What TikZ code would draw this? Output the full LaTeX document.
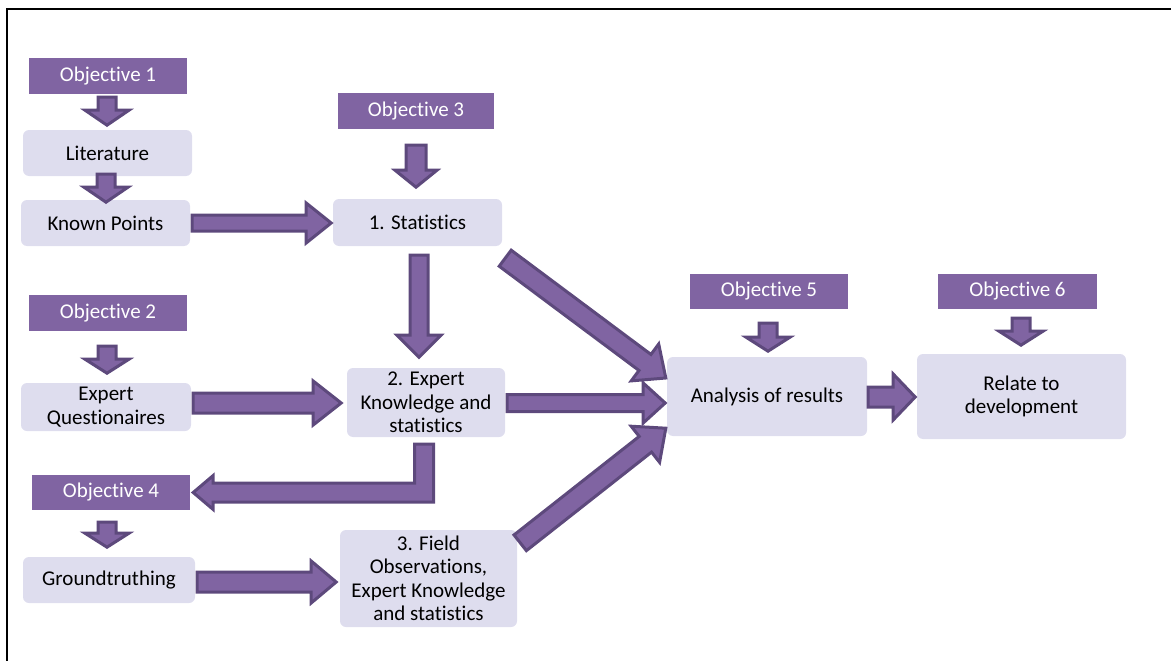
\documentclass[tikz,border=0pt]{standalone}
\usepackage{fontspec}
\setmainfont{Carlito}[Ligatures={NoCommon,NoContextual}]
\usetikzlibrary{calc}
\definecolor{objfill}{HTML}{8064A2}
\definecolor{boxfill}{HTML}{DEDDEE}
\definecolor{arrfill}{HTML}{8064A2}
\definecolor{arrdraw}{HTML}{5D497C}
\tikzset{
  objbox/.style={fill=objfill, text=white, inner sep=0pt, font=\fontsize{21}{23.5}\selectfont},
  lightbox/.style={fill=boxfill, rounded corners=6pt, text=black, inner sep=0pt, align=center, font=\fontsize{21}{23.5}\selectfont},
  arrowst/.style={fill=arrfill, draw=arrdraw, line width=3pt, line join=miter},
}
\newcommand\blockarr[5]{%
  \path (#2) coordinate (ba-t) ($(#2)!#5pt!(#1)$) coordinate (ba-h) (#1) coordinate (ba-s);
  \draw[arrowst] ($(ba-s)!#3pt!90:(ba-t)$) -- ($(ba-h)!#3pt!90:(ba-t)$) -- ($(ba-h)!#4pt!90:(ba-t)$) -- (ba-t) -- ($(ba-h)!#4pt!-90:(ba-t)$) -- ($(ba-h)!#3pt!-90:(ba-t)$) -- ($(ba-s)!#3pt!-90:(ba-t)$) -- cycle;}
\begin{document}
\begin{tikzpicture}[x=1pt,y=-1pt]
\useasboundingbox (0,0) rectangle (1171,661);
\draw[line width=2pt] (7,661) -- (7,9) -- (1171,9);

% objective boxes
\node[objbox, minimum width=158pt, minimum height=36pt] (o1) at (108,76) {Objective 1};
\node[objbox, minimum width=156pt, minimum height=36pt] (o3) at (416,111) {Objective 3};
\node[objbox, minimum width=158pt, minimum height=36pt] (o2) at (108,313) {Objective 2};
\node[objbox, minimum width=158pt, minimum height=35pt] (o4) at (111,492.5) {Objective 4};
\node[objbox, minimum width=158pt, minimum height=35pt] (o5) at (769,291.5) {Objective 5};
\node[objbox, minimum width=159pt, minimum height=35pt] (o6) at (1017.5,291.5) {Objective 6};

% light boxes
\node[lightbox, minimum width=169pt, minimum height=46pt] (lit) at (107.5,153) {Literature};
\node[lightbox, minimum width=169pt, minimum height=46pt] (kp) at (105.5,223) {Known Points};
\node[lightbox, minimum width=169pt, minimum height=47pt] (st) at (417.5,222.5) {1. Statistics};
\node[lightbox, minimum width=170pt, minimum height=48pt] (eq) at (106,407) {Expert\\Questionaires};
\node[lightbox, minimum width=158pt, minimum height=69pt] (ek) at (426,402.5) {2. Expert\\Knowledge and\\statistics};
\node[lightbox, minimum width=172pt, minimum height=46pt] (gt) at (109,580) {Groundtruthing};
\node[lightbox, minimum width=177pt, minimum height=97pt] (fo) at (428.5,578.5) {3. Field\\Observations,\\Expert Knowledge\\and statistics};
\node[lightbox, minimum width=200pt, minimum height=79pt] (an) at (767,396.5) {Analysis of results};
\node[lightbox, minimum width=209pt, minimum height=85pt] (rd) at (1021.5,396.5) {Relate to\\development};

% vertical small arrows
\blockarr{$(o1.south)+(-1,3)$}{$(o1.south)+(-1,31)$}{9}{22}{15}
\blockarr{$(lit.south)+(-1.5,-2)$}{$(lit.south)+(-1.5,26)$}{9}{22}{15}
\blockarr{$(o3.south)+(0,16)$}{$(o3.south)+(0,58)$}{10}{21}{17}
\blockarr{$(st.south)+(1.5,9)$}{$(st.south)+(1.5,111)$}{9}{22}{22}
\blockarr{$(o2.south)+(-1,15)$}{$(o2.south)+(-1,42)$}{9}{22}{14}
\blockarr{$(o4.south)+(-4,12)$}{$(o4.south)+(-4,37)$}{9}{22}{14}
\blockarr{$(o5.south)+(-1,14)$}{$(o5.south)+(-1,42)$}{9}{22}{14}
\blockarr{$(o6.south)+(3.5,9)$}{$(o6.south)+(3.5,36)$}{9}{22}{14}

% horizontal arrows
\blockarr{$(kp.east)+(2,0)$}{$(kp.east)+(141,0)$}{8}{20}{25}
\blockarr{$(eq.east)+(2,-4)$}{$(eq.east)+(150,-4)$}{10}{22}{28}
\blockarr{$(ek.east)+(2,0.5)$}{$(ek.east)+(160,0.5)$}{8.5}{20}{22}
\blockarr{$(gt.east)+(2,2)$}{$(gt.east)+(141,2)$}{10}{21}{25}
\blockarr{$(an.east)+(1,0.5)$}{$(an.east)+(48,0.5)$}{10}{23}{22}

% diagonal arrows
\blockarr{$(st.south east)+(3,12)$}{$(an.west)+(-1,-18.5)$}{10}{23}{26}
\blockarr{$(fo.north east)+(3,13)$}{$(an.south west)+(-1,-8)$}{10}{23}{26}

% elbow arrow
\coordinate (e1) at ($(ek.south)+(-2,7)$);
\coordinate (e2) at ($(o4.east)+(3,0)$);
\draw[arrowst] ($(e1)+(-9.5,0)$) -- ($(e1)+(9.5,0)$) -- ($(e1|-e2)+(9.5,9.5)$) -- ($(e2)+(20,9.5)$) -- ($(e2)+(20,17)$) -- (e2) -- ($(e2)+(20,-17)$) -- ($(e2)+(20,-9.5)$) -- ($(e1|-e2)+(-9.5,-9.5)$) -- cycle;
\end{tikzpicture}
\end{document}
